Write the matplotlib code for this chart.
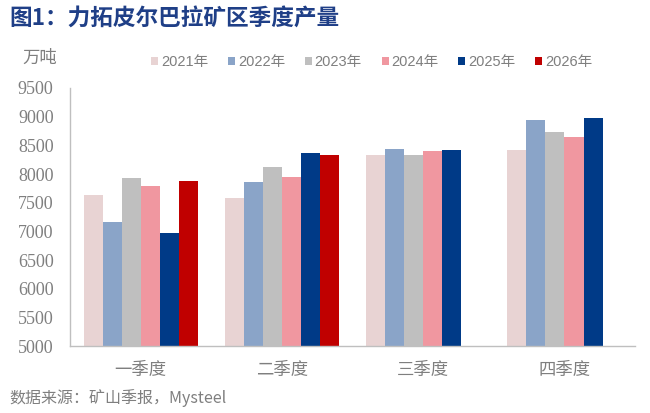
import numpy as np
import matplotlib
matplotlib.use('Agg')
import matplotlib.pyplot as plt

plt.rcParams['font.family'] = ['Noto Sans CJK SC', 'DejaVu Sans']

quarters = ['一季度', '二季度', '三季度', '四季度']
years = ['2021年', '2022年', '2023年', '2024年', '2025年', '2026年']
v2021 = [7630, 7575, 8325, 8410]
v2022 = [7160, 7855, 8430, 8935]
v2023 = [7925, 8115, 8340, 8740]
v2024 = [7785, 7940, 8395, 8640]
v2025 = [6965, 8375, 8410, 8970]
v2026 = [7875, 8340, np.nan, np.nan]
series = [v2021, v2022, v2023, v2024, v2025, v2026]
colors = ['#E8D3D3', '#8AA4C8', '#BFBFBF', '#F097A0', '#003A87', '#C00000']

fig = plt.figure(figsize=(6.5, 4.13), dpi=100)
ax = fig.add_axes([0.108, 0.162, 0.869, 0.625])

x = np.arange(len(quarters))
w = 0.135
for i, (vals, c, lab) in enumerate(zip(series, colors, years)):
    ax.bar(x + (i - 2.5) * w, vals, width=w, color=c, label=lab, zorder=2)

ax.set_ylim(5000, 9500)
ax.set_xlim(-0.5, 3.5)
ax.set_yticks(np.arange(5000, 9501, 500))
ax.set_xticks(x)
ax.set_xticklabels(quarters, fontsize=12.5, color='#7F7F7F')
for t in ax.get_yticklabels():
    t.set_fontfamily('Liberation Serif')
    t.set_fontsize(13)
    t.set_color('#7F7F7F')
ax.tick_params(axis='both', length=0)
ax.tick_params(axis='x', pad=11)
ax.tick_params(axis='y', pad=12)
for s in ['top', 'right']:
    ax.spines[s].set_visible(False)
for s in ['left', 'bottom']:
    ax.spines[s].set_color('#BFBFBF')
    ax.spines[s].set_linewidth(1)

leg = fig.legend(loc='center', bbox_to_anchor=(0.572, 0.850), ncol=6, frameon=False,
                 handlelength=0.48, handleheight=0.48, handletextpad=0.2, columnspacing=1.35,
                 prop={'family': ['Liberation Sans', 'Noto Sans CJK SC'], 'size': 10.5})
for t in leg.get_texts():
    t.set_color('#7F7F7F')

fig.text(0.034, 0.860, '万吨', fontsize=12.5, color='#7F7F7F', va='center')
fig.text(0.014, 0.955, '图1：力拓皮尔巴拉矿区季度产量', fontsize=16.3, fontweight='bold',
         color='#1F3F87', va='center')
fig.text(0.014, 0.036, '数据来源：矿山季报，Mysteel', fontsize=11.5, color='#7F7F7F', va='center')

fig.savefig('out.png', dpi=100)
